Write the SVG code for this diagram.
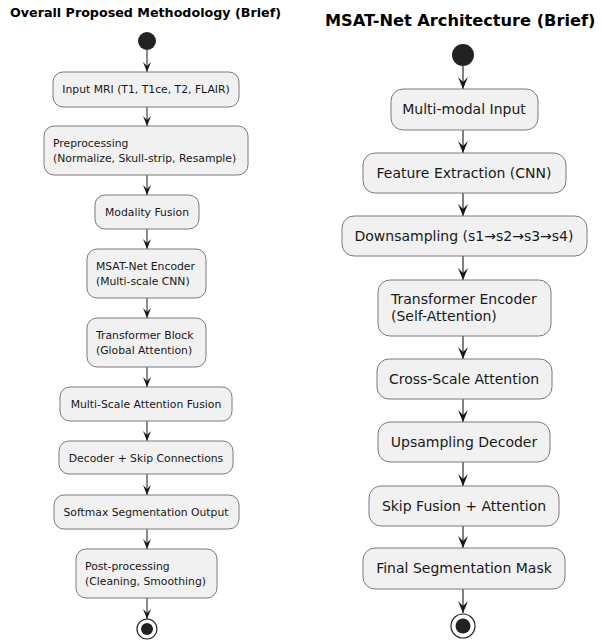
<svg xmlns="http://www.w3.org/2000/svg" width="602" height="641" viewBox="0 0 602 641">
<defs>
<style>
.bg{fill:#ffffff}
.box{fill:#f1f1f1;stroke:#7a7a7a;stroke-width:1}
.tL{font-family:"DejaVu Sans",sans-serif;font-size:10.8px;fill:#181818}
.tR{font-family:"DejaVu Sans",sans-serif;font-size:14px;fill:#181818}
.title{font-family:"DejaVu Sans",sans-serif;font-weight:bold;fill:#000000}
.eL{stroke:#181818;stroke-width:1;fill:none;marker-end:url(#arrL)}
.eR{stroke:#181818;stroke-width:1.1;fill:none;marker-end:url(#arrR)}
.start{fill:#222222}
.endo{fill:#ffffff;stroke:#222222;stroke-width:1.2}
.endi{fill:#222222}
</style>
<marker id="arrL" viewBox="0 0 10 8" refX="10" refY="4" markerWidth="10" markerHeight="8" markerUnits="userSpaceOnUse" orient="auto">
<path d="M0,0 L10,4 L0,8 L4,4 Z" fill="#181818"/>
</marker>
<marker id="arrR" viewBox="0 0 12 10" refX="12" refY="5" markerWidth="12" markerHeight="10" markerUnits="userSpaceOnUse" orient="auto">
<path d="M0,0 L12,5 L0,10 L5,5 Z" fill="#181818"/>
</marker>
</defs>
<rect class="bg" x="0" y="0" width="602" height="641"/>

<text class="title" x="10" y="17" font-size="12.7">Overall Proposed Methodology (Brief)</text>
<text class="title" x="325" y="26" font-size="16.2">MSAT-Net Architecture (Brief)</text>

<g id="connectors">
<line class="eL" x1="147" y1="50" x2="147" y2="72"/>
<line class="eL" x1="147" y1="107" x2="147" y2="126"/>
<line class="eL" x1="147" y1="175" x2="147" y2="195"/>
<line class="eL" x1="147" y1="229" x2="147" y2="249"/>
<line class="eL" x1="147" y1="298" x2="147" y2="318"/>
<line class="eL" x1="147" y1="367" x2="147" y2="387"/>
<line class="eL" x1="147" y1="421" x2="147" y2="441"/>
<line class="eL" x1="147" y1="474" x2="147" y2="495"/>
<line class="eL" x1="147" y1="529" x2="147" y2="549"/>
<line class="eL" x1="147" y1="598" x2="147" y2="619"/>
<line class="eR" x1="463" y1="66" x2="463" y2="89"/>
<line class="eR" x1="463" y1="130" x2="463" y2="153"/>
<line class="eR" x1="463" y1="193" x2="463" y2="216"/>
<line class="eR" x1="463" y1="256" x2="463" y2="280"/>
<line class="eR" x1="463" y1="336" x2="463" y2="359"/>
<line class="eR" x1="463" y1="399" x2="463" y2="422"/>
<line class="eR" x1="463" y1="462" x2="463" y2="486"/>
<line class="eR" x1="463" y1="526" x2="463" y2="548"/>
<line class="eR" x1="463" y1="589" x2="463" y2="613"/>
</g>

<g id="L-start"><circle class="start" cx="147" cy="41" r="9"/></g>
<g id="L-input"><rect class="box" x="53" y="72" width="186" height="35" rx="10"/><text class="tL" x="146" y="93" text-anchor="middle">Input MRI (T1, T1ce, T2, FLAIR)</text></g>
<g id="L-pre"><rect class="box" x="44" y="126" width="204" height="49" rx="10"/><text class="tL" x="53" y="147">Preprocessing</text><text class="tL" x="53" y="162">(Normalize, Skull-strip, Resample)</text></g>
<g id="L-fusion"><rect class="box" x="95" y="195" width="104" height="34" rx="10"/><text class="tL" x="147" y="216" text-anchor="middle">Modality Fusion</text></g>
<g id="L-encoder"><rect class="box" x="87" y="249" width="119" height="49" rx="10"/><text class="tL" x="96" y="270">MSAT-Net Encoder</text><text class="tL" x="96" y="285">(Multi-scale CNN)</text></g>
<g id="L-transformer"><rect class="box" x="87" y="318" width="119" height="49" rx="10"/><text class="tL" x="96" y="339">Transformer Block</text><text class="tL" x="96" y="354">(Global Attention)</text></g>
<g id="L-msaf"><rect class="box" x="60" y="387" width="172" height="34" rx="10"/><text class="tL" x="146" y="408" text-anchor="middle">Multi-Scale Attention Fusion</text></g>
<g id="L-decoder"><rect class="box" x="59" y="441" width="174" height="33" rx="10"/><text class="tL" x="146" y="462" text-anchor="middle">Decoder + Skip Connections</text></g>
<g id="L-softmax"><rect class="box" x="54" y="495" width="185" height="34" rx="10"/><text class="tL" x="146" y="516" text-anchor="middle">Softmax Segmentation Output</text></g>
<g id="L-post"><rect class="box" x="76" y="549" width="141" height="49" rx="10"/><text class="tL" x="85" y="570">Post-processing</text><text class="tL" x="85" y="585">(Cleaning, Smoothing)</text></g>
<g id="L-end"><circle class="endo" cx="147" cy="629" r="10"/><circle class="endi" cx="147" cy="629" r="6"/></g>

<g id="R-start"><circle class="start" cx="463" cy="55" r="11"/></g>
<g id="R-input"><rect class="box" x="391" y="89" width="147" height="41" rx="12"/><text class="tR" x="464" y="114" text-anchor="middle">Multi-modal Input</text></g>
<g id="R-feature"><rect class="box" x="363" y="153" width="203" height="40" rx="12"/><text class="tR" x="464" y="178" text-anchor="middle">Feature Extraction (CNN)</text></g>
<g id="R-down"><rect class="box" x="342" y="216" width="245" height="40" rx="12"/><text class="tR" x="464" y="241" text-anchor="middle">Downsampling (s1→s2→s3→s4)</text></g>
<g id="R-transformer"><rect class="box" x="378" y="280" width="173" height="56" rx="12"/><text class="tR" x="391" y="304">Transformer Encoder</text><text class="tR" x="391" y="321">(Self-Attention)</text></g>
<g id="R-cross"><rect class="box" x="377" y="359" width="175" height="40" rx="12"/><text class="tR" x="464" y="384" text-anchor="middle">Cross-Scale Attention</text></g>
<g id="R-up"><rect class="box" x="378" y="422" width="172" height="40" rx="12"/><text class="tR" x="464" y="447" text-anchor="middle">Upsampling Decoder</text></g>
<g id="R-skip"><rect class="box" x="369" y="486" width="190" height="40" rx="12"/><text class="tR" x="464" y="511" text-anchor="middle">Skip Fusion + Attention</text></g>
<g id="R-final"><rect class="box" x="363" y="548" width="202" height="41" rx="12"/><text class="tR" x="464" y="573" text-anchor="middle">Final Segmentation Mask</text></g>
<g id="R-end"><circle class="endo" cx="463" cy="626" r="12"/><circle class="endi" cx="463" cy="626" r="7.5"/></g>
</svg>
